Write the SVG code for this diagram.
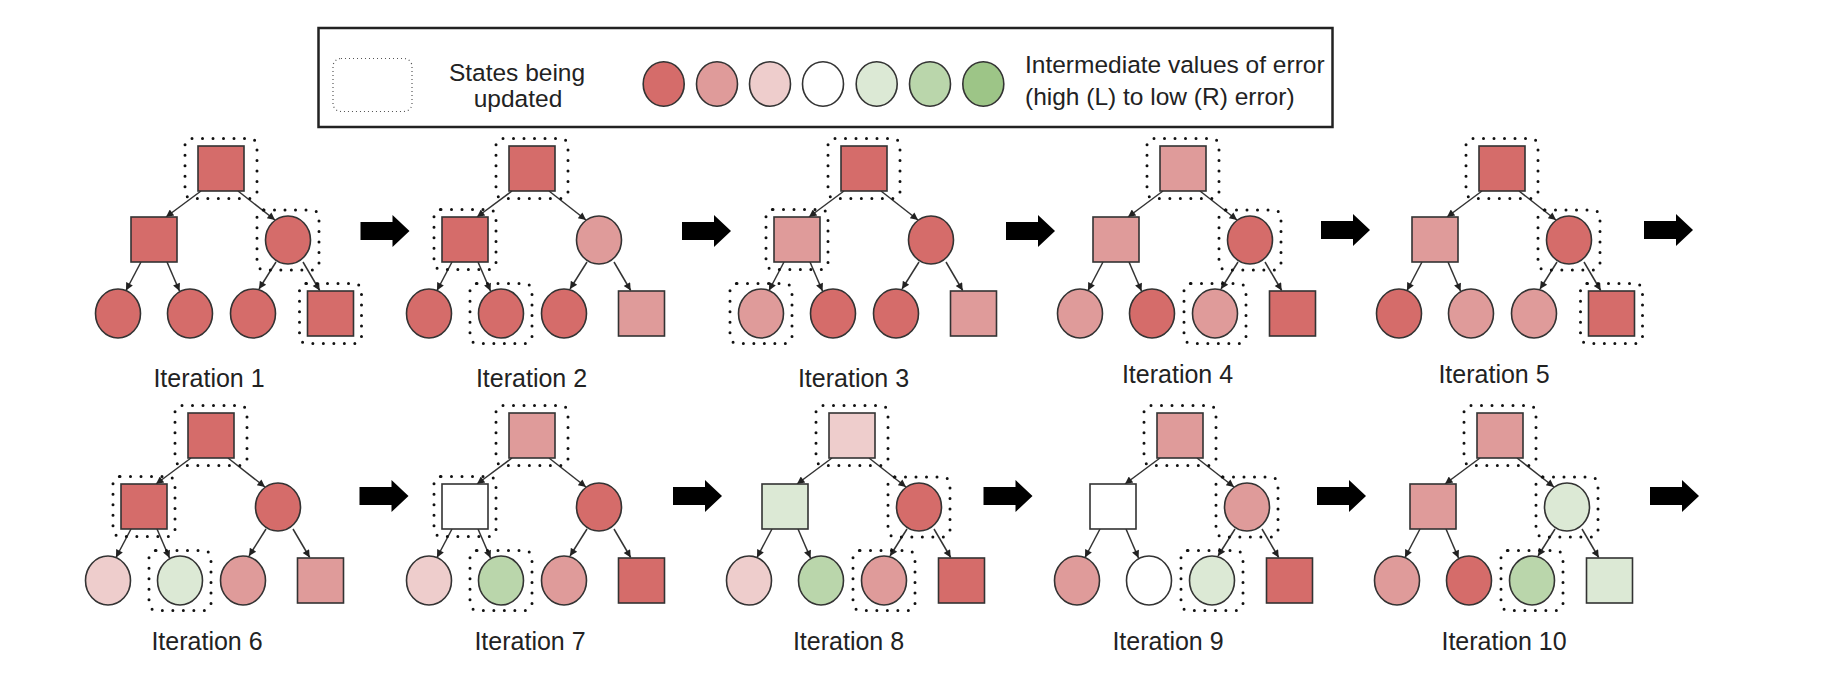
<svg xmlns="http://www.w3.org/2000/svg" width="1832" height="680" viewBox="0 0 1832 680">
<style>
.n{stroke:#333;stroke-width:1.6}
.r1{fill:#d56c6a}.r2{fill:#df9b9a}.r3{fill:#eecdcc}.w{fill:#ffffff}.g3{fill:#dce9d5}.g2{fill:#bad6ab}.g1{fill:#9dc587}
.sel{fill:none;stroke:#111;stroke-width:3;stroke-dasharray:0 10.5;stroke-linecap:round}
.e{stroke:#333;stroke-width:1.5;fill:none;marker-end:url(#ah)}
.lbl{font-family:"Liberation Sans",Arial,sans-serif;font-size:25px;fill:#222;text-anchor:middle}
.lg{font-family:"Liberation Sans",Arial,sans-serif;font-size:24.5px;fill:#222}
.ba{fill:#000}
</style>
<defs>
<marker id="ah" viewBox="0 0 10 10" refX="10" refY="5" markerWidth="10" markerHeight="7.5" markerUnits="userSpaceOnUse" orient="auto">
<path d="M0,0 L10,5 L0,10 Z" fill="#222"/>
</marker>
<g id="edges-tpl">
<path class="e" d="M-20 191 L-55 217"/>
<path class="e" d="M17 191 L54 220"/>
<path class="e" d="M-80 262 L-95 290.5"/>
<path class="e" d="M-54 262 L-41.5 291"/>
<path class="e" d="M55 262 L38 289"/>
<path class="e" d="M82 262 L98.7 290.5"/>
</g>
</defs>
<rect width="1832" height="680" fill="#fff"/>

<g id="legend">
<rect x="318.5" y="28" width="1014" height="99" fill="#fff" stroke="#222" stroke-width="2.5"/>
<rect x="333" y="58.5" width="79" height="53" rx="8" fill="none" stroke="#555" stroke-width="1.2" stroke-dasharray="1 3"/>
<text class="lg" x="517" y="80.5" text-anchor="middle">States being</text>
<text class="lg" x="518" y="106.5" text-anchor="middle">updated</text>
<ellipse class="n r1" cx="663.7" cy="84" rx="20.5" ry="22.2"/>
<ellipse class="n r2" cx="717" cy="84" rx="20.5" ry="22.2"/>
<ellipse class="n r3" cx="770" cy="84" rx="20.5" ry="22.2"/>
<ellipse class="n w" cx="823" cy="84" rx="20.5" ry="22.2"/>
<ellipse class="n g3" cx="876.7" cy="84" rx="20.5" ry="22.2"/>
<ellipse class="n g2" cx="930" cy="84" rx="20.5" ry="22.2"/>
<ellipse class="n g1" cx="983.3" cy="84" rx="20.5" ry="22.2"/>
<text class="lg" x="1025" y="73">Intermediate values of error</text>
<text class="lg" x="1025" y="105">(high (L) to low (R) error)</text>
</g>

<g id="connectors">
<use href="#edges-tpl" transform="translate(221,0)"/>
<use href="#edges-tpl" transform="translate(532,0)"/>
<use href="#edges-tpl" transform="translate(864,0)"/>
<use href="#edges-tpl" transform="translate(1183,0)"/>
<use href="#edges-tpl" transform="translate(1502,0)"/>
<use href="#edges-tpl" transform="translate(211,267)"/>
<use href="#edges-tpl" transform="translate(532,267)"/>
<use href="#edges-tpl" transform="translate(852,267)"/>
<use href="#edges-tpl" transform="translate(1180,267)"/>
<use href="#edges-tpl" transform="translate(1500,267)"/>
</g>

<g id="arrows">
<path class="ba" d="M360.5,222 H392.5 V215 L409.5,231 L392.5,247 V240 H360.5 Z"/>
<path class="ba" d="M682,222 H714 V215 L731,231 L714,247 V240 H682 Z"/>
<path class="ba" d="M1006,222 H1038 V215 L1055,231 L1038,247 V240 H1006 Z"/>
<path class="ba" d="M1321,221 H1353 V214 L1370,230 L1353,246 V239 H1321 Z"/>
<path class="ba" d="M1644,221 H1676 V214 L1693,230 L1676,246 V239 H1644 Z"/>
<path class="ba" d="M359.5,487 H391.5 V480 L408.5,496 L391.5,512 V505 H359.5 Z"/>
<path class="ba" d="M673,487 H705 V480 L722,496 L705,512 V505 H673 Z"/>
<path class="ba" d="M983.5,487 H1015.5 V480 L1032.5,496 L1015.5,512 V505 H983.5 Z"/>
<path class="ba" d="M1317,487 H1349 V480 L1366,496 L1349,512 V505 H1317 Z"/>
<path class="ba" d="M1650,487 H1682 V480 L1699,496 L1682,512 V505 H1650 Z"/>
</g>

<!-- Iteration 1 -->
<g id="iter1" transform="translate(221,0)">
<g id="it1-root"><rect class="sel" x="-36" y="138.5" width="72" height="60" rx="7"/><rect class="n r1" x="-23" y="146" width="46" height="45"/></g>
<g id="it1-left"><rect class="n r1" x="-90" y="217" width="46" height="45"/></g>
<g id="it1-right"><rect class="sel" x="36" y="210" width="62" height="60" rx="7"/><ellipse class="n r1" cx="67" cy="240" rx="22.5" ry="24"/></g>
<g id="it1-b1"><ellipse class="n r1" cx="-103" cy="313.5" rx="22.5" ry="24.5"/></g>
<g id="it1-b2"><ellipse class="n r1" cx="-31" cy="313.5" rx="22.5" ry="24.5"/></g>
<g id="it1-b3"><ellipse class="n r1" cx="32" cy="313.5" rx="22.5" ry="24.5"/></g>
<g id="it1-b4"><rect class="sel" x="78.5" y="283.5" width="62" height="60" rx="7"/><rect class="n r1" x="86.5" y="291" width="46" height="45"/></g>
</g>
<!-- Iteration 2 -->
<g id="iter2" transform="translate(532,0)">
<g id="it2-root"><rect class="sel" x="-36" y="138.5" width="72" height="60" rx="7"/><rect class="n r1" x="-23" y="146" width="46" height="45"/></g>
<g id="it2-left"><rect class="sel" x="-98" y="209.5" width="62" height="60" rx="7"/><rect class="n r1" x="-90" y="217" width="46" height="45"/></g>
<g id="it2-right"><ellipse class="n r2" cx="67" cy="240" rx="22.5" ry="24"/></g>
<g id="it2-b1"><ellipse class="n r1" cx="-103" cy="313.5" rx="22.5" ry="24.5"/></g>
<g id="it2-b2"><rect class="sel" x="-62" y="283.5" width="62" height="60" rx="7"/><ellipse class="n r1" cx="-31" cy="313.5" rx="22.5" ry="24.5"/></g>
<g id="it2-b3"><ellipse class="n r1" cx="32" cy="313.5" rx="22.5" ry="24.5"/></g>
<g id="it2-b4"><rect class="n r2" x="86.5" y="291" width="46" height="45"/></g>
</g>
<!-- Iteration 3 -->
<g id="iter3" transform="translate(864,0)">
<g id="it3-root"><rect class="sel" x="-36" y="138.5" width="72" height="60" rx="7"/><rect class="n r1" x="-23" y="146" width="46" height="45"/></g>
<g id="it3-left"><rect class="sel" x="-98" y="209.5" width="62" height="60" rx="7"/><rect class="n r2" x="-90" y="217" width="46" height="45"/></g>
<g id="it3-right"><ellipse class="n r1" cx="67" cy="240" rx="22.5" ry="24"/></g>
<g id="it3-b1"><rect class="sel" x="-134" y="283.5" width="62" height="60" rx="7"/><ellipse class="n r2" cx="-103" cy="313.5" rx="22.5" ry="24.5"/></g>
<g id="it3-b2"><ellipse class="n r1" cx="-31" cy="313.5" rx="22.5" ry="24.5"/></g>
<g id="it3-b3"><ellipse class="n r1" cx="32" cy="313.5" rx="22.5" ry="24.5"/></g>
<g id="it3-b4"><rect class="n r2" x="86.5" y="291" width="46" height="45"/></g>
</g>
<!-- Iteration 4 -->
<g id="iter4" transform="translate(1183,0)">
<g id="it4-root"><rect class="sel" x="-36" y="138.5" width="72" height="60" rx="7"/><rect class="n r2" x="-23" y="146" width="46" height="45"/></g>
<g id="it4-left"><rect class="n r2" x="-90" y="217" width="46" height="45"/></g>
<g id="it4-right"><rect class="sel" x="36" y="210" width="62" height="60" rx="7"/><ellipse class="n r1" cx="67" cy="240" rx="22.5" ry="24"/></g>
<g id="it4-b1"><ellipse class="n r2" cx="-103" cy="313.5" rx="22.5" ry="24.5"/></g>
<g id="it4-b2"><ellipse class="n r1" cx="-31" cy="313.5" rx="22.5" ry="24.5"/></g>
<g id="it4-b3"><rect class="sel" x="1" y="283.5" width="62" height="60" rx="7"/><ellipse class="n r2" cx="32" cy="313.5" rx="22.5" ry="24.5"/></g>
<g id="it4-b4"><rect class="n r1" x="86.5" y="291" width="46" height="45"/></g>
</g>
<!-- Iteration 5 -->
<g id="iter5" transform="translate(1502,0)">
<g id="it5-root"><rect class="sel" x="-36" y="138.5" width="72" height="60" rx="7"/><rect class="n r1" x="-23" y="146" width="46" height="45"/></g>
<g id="it5-left"><rect class="n r2" x="-90" y="217" width="46" height="45"/></g>
<g id="it5-right"><rect class="sel" x="36" y="210" width="62" height="60" rx="7"/><ellipse class="n r1" cx="67" cy="240" rx="22.5" ry="24"/></g>
<g id="it5-b1"><ellipse class="n r1" cx="-103" cy="313.5" rx="22.5" ry="24.5"/></g>
<g id="it5-b2"><ellipse class="n r2" cx="-31" cy="313.5" rx="22.5" ry="24.5"/></g>
<g id="it5-b3"><ellipse class="n r2" cx="32" cy="313.5" rx="22.5" ry="24.5"/></g>
<g id="it5-b4"><rect class="sel" x="78.5" y="283.5" width="62" height="60" rx="7"/><rect class="n r1" x="86.5" y="291" width="46" height="45"/></g>
</g>
<!-- Iteration 6 -->
<g id="iter6" transform="translate(211,267)">
<g id="it6-root"><rect class="sel" x="-36" y="138.5" width="72" height="60" rx="7"/><rect class="n r1" x="-23" y="146" width="46" height="45"/></g>
<g id="it6-left"><rect class="sel" x="-98" y="209.5" width="62" height="60" rx="7"/><rect class="n r1" x="-90" y="217" width="46" height="45"/></g>
<g id="it6-right"><ellipse class="n r1" cx="67" cy="240" rx="22.5" ry="24"/></g>
<g id="it6-b1"><ellipse class="n r3" cx="-103" cy="313.5" rx="22.5" ry="24.5"/></g>
<g id="it6-b2"><rect class="sel" x="-62" y="283.5" width="62" height="60" rx="7"/><ellipse class="n g3" cx="-31" cy="313.5" rx="22.5" ry="24.5"/></g>
<g id="it6-b3"><ellipse class="n r2" cx="32" cy="313.5" rx="22.5" ry="24.5"/></g>
<g id="it6-b4"><rect class="n r2" x="86.5" y="291" width="46" height="45"/></g>
</g>
<!-- Iteration 7 -->
<g id="iter7" transform="translate(532,267)">
<g id="it7-root"><rect class="sel" x="-36" y="138.5" width="72" height="60" rx="7"/><rect class="n r2" x="-23" y="146" width="46" height="45"/></g>
<g id="it7-left"><rect class="sel" x="-98" y="209.5" width="62" height="60" rx="7"/><rect class="n w" x="-90" y="217" width="46" height="45"/></g>
<g id="it7-right"><ellipse class="n r1" cx="67" cy="240" rx="22.5" ry="24"/></g>
<g id="it7-b1"><ellipse class="n r3" cx="-103" cy="313.5" rx="22.5" ry="24.5"/></g>
<g id="it7-b2"><rect class="sel" x="-62" y="283.5" width="62" height="60" rx="7"/><ellipse class="n g2" cx="-31" cy="313.5" rx="22.5" ry="24.5"/></g>
<g id="it7-b3"><ellipse class="n r2" cx="32" cy="313.5" rx="22.5" ry="24.5"/></g>
<g id="it7-b4"><rect class="n r1" x="86.5" y="291" width="46" height="45"/></g>
</g>
<!-- Iteration 8 -->
<g id="iter8" transform="translate(852,267)">
<g id="it8-root"><rect class="sel" x="-36" y="138.5" width="72" height="60" rx="7"/><rect class="n r3" x="-23" y="146" width="46" height="45"/></g>
<g id="it8-left"><rect class="n g3" x="-90" y="217" width="46" height="45"/></g>
<g id="it8-right"><rect class="sel" x="36" y="210" width="62" height="60" rx="7"/><ellipse class="n r1" cx="67" cy="240" rx="22.5" ry="24"/></g>
<g id="it8-b1"><ellipse class="n r3" cx="-103" cy="313.5" rx="22.5" ry="24.5"/></g>
<g id="it8-b2"><ellipse class="n g2" cx="-31" cy="313.5" rx="22.5" ry="24.5"/></g>
<g id="it8-b3"><rect class="sel" x="1" y="283.5" width="62" height="60" rx="7"/><ellipse class="n r2" cx="32" cy="313.5" rx="22.5" ry="24.5"/></g>
<g id="it8-b4"><rect class="n r1" x="86.5" y="291" width="46" height="45"/></g>
</g>
<!-- Iteration 9 -->
<g id="iter9" transform="translate(1180,267)">
<g id="it9-root"><rect class="sel" x="-36" y="138.5" width="72" height="60" rx="7"/><rect class="n r2" x="-23" y="146" width="46" height="45"/></g>
<g id="it9-left"><rect class="n w" x="-90" y="217" width="46" height="45"/></g>
<g id="it9-right"><rect class="sel" x="36" y="210" width="62" height="60" rx="7"/><ellipse class="n r2" cx="67" cy="240" rx="22.5" ry="24"/></g>
<g id="it9-b1"><ellipse class="n r2" cx="-103" cy="313.5" rx="22.5" ry="24.5"/></g>
<g id="it9-b2"><ellipse class="n w" cx="-31" cy="313.5" rx="22.5" ry="24.5"/></g>
<g id="it9-b3"><rect class="sel" x="1" y="283.5" width="62" height="60" rx="7"/><ellipse class="n g3" cx="32" cy="313.5" rx="22.5" ry="24.5"/></g>
<g id="it9-b4"><rect class="n r1" x="86.5" y="291" width="46" height="45"/></g>
</g>
<!-- Iteration 10 -->
<g id="iter10" transform="translate(1500,267)">
<g id="it10-root"><rect class="sel" x="-36" y="138.5" width="72" height="60" rx="7"/><rect class="n r2" x="-23" y="146" width="46" height="45"/></g>
<g id="it10-left"><rect class="n r2" x="-90" y="217" width="46" height="45"/></g>
<g id="it10-right"><rect class="sel" x="36" y="210" width="62" height="60" rx="7"/><ellipse class="n g3" cx="67" cy="240" rx="22.5" ry="24"/></g>
<g id="it10-b1"><ellipse class="n r2" cx="-103" cy="313.5" rx="22.5" ry="24.5"/></g>
<g id="it10-b2"><ellipse class="n r1" cx="-31" cy="313.5" rx="22.5" ry="24.5"/></g>
<g id="it10-b3"><rect class="sel" x="1" y="283.5" width="62" height="60" rx="7"/><ellipse class="n g2" cx="32" cy="313.5" rx="22.5" ry="24.5"/></g>
<g id="it10-b4"><rect class="n g3" x="86.5" y="291" width="46" height="45"/></g>
</g>

<g id="labels">
<text class="lbl" x="209" y="387">Iteration 1</text>
<text class="lbl" x="531.5" y="387">Iteration 2</text>
<text class="lbl" x="853.5" y="387">Iteration 3</text>
<text class="lbl" x="1177.5" y="383">Iteration 4</text>
<text class="lbl" x="1494" y="383">Iteration 5</text>
<text class="lbl" x="207" y="650">Iteration 6</text>
<text class="lbl" x="530" y="650">Iteration 7</text>
<text class="lbl" x="848.5" y="650">Iteration 8</text>
<text class="lbl" x="1168" y="650">Iteration 9</text>
<text class="lbl" x="1504" y="650">Iteration 10</text>
</g>
</svg>
